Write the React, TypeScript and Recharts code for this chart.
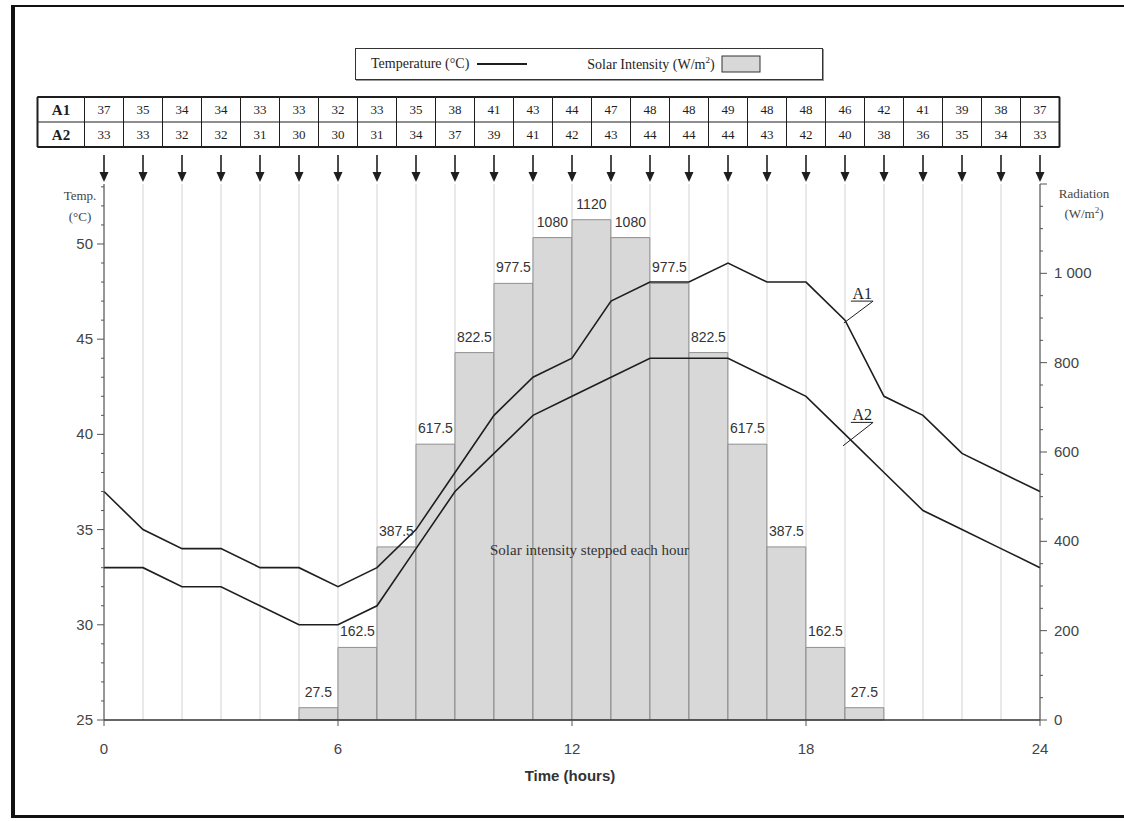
import React from 'react';
import {
  ComposedChart,
  Bar,
  Line,
  XAxis,
  YAxis,
  CartesianGrid,
  Legend,
  LabelList,
  ReferenceDot,
  ReferenceLine,
} from 'recharts';

// hourly temperatures for the two sites (°C), hour 0 .. 24
const hours = [0, 1, 2, 3, 4, 5, 6, 7, 8, 9, 10, 11, 12, 13, 14, 15, 16, 17, 18, 19, 20, 21, 22, 23, 24];
const a1Temps = [37, 35, 34, 34, 33, 33, 32, 33, 35, 38, 41, 43, 44, 47, 48, 48, 49, 48, 48, 46, 42, 41, 39, 38, 37];
const a2Temps = [33, 33, 32, 32, 31, 30, 30, 31, 34, 37, 39, 41, 42, 43, 44, 44, 44, 43, 42, 40, 38, 36, 35, 34, 33];

// solar intensity held constant over each hour (W/m²), keyed by the hour it starts
const solarStart = [5, 6, 7, 8, 9, 10, 11, 12, 13, 14, 15, 16, 17, 18, 19];
const solarValues = [27.5, 162.5, 387.5, 617.5, 822.5, 977.5, 1080, 1120, 1080, 977.5, 822.5, 617.5, 387.5, 162.5, 27.5];

const timeTicks = [0, 6, 12, 18, 24];
const tempTicks = Array.from({ length: 29 }, (_, i) => 25 + i);
const radTicks = Array.from({ length: 25 }, (_, i) => i * 50);

type Row = { x: number; a1: number; a2: number; solar?: number };

// one row per hour; the solar step that starts at that hour rides on the same row
const rows: Row[] = hours.map((h, i) => {
  const k = solarStart.indexOf(h);
  return { x: h, a1: a1Temps[i], a2: a2Temps[i], solar: k >= 0 ? solarValues[k] : undefined };
});

const SERIF = '"Liberation Serif", "DejaVu Serif", serif';
const SANS = '"Liberation Sans", Arial, sans-serif';
const INK = '#1e1e1e';
const CELL = 39;

// top axis: one table column plus a down arrow per hour
function HourTick(props: any) {
  const { x, y, payload } = props;
  const h = payload.value as number;
  const i = hours.indexOf(h);
  const top = y - 87;
  const mid = y - 62;
  const bottom = y - 37;
  const left = x - CELL / 2;
  const right = x + CELL / 2;
  return (
    <g>
      {h === 0 && (
        <g>
          <rect x={left - 47} y={top} width={47} height={bottom - top} fill="#fff" stroke={INK} strokeWidth={1} />
          <line x1={left - 47} x2={left - 47} y1={top} y2={bottom} stroke={INK} strokeWidth={2} />
          <line x1={left - 47} x2={left} y1={mid} y2={mid} stroke={INK} />
          <line x1={left - 47} x2={left} y1={top} y2={top} stroke={INK} strokeWidth={2} />
          <line x1={left - 47} x2={left} y1={bottom} y2={bottom} stroke={INK} strokeWidth={2} />
          <text x={left - 23.5} y={top + 18} textAnchor="middle" fontFamily={SERIF} fontWeight="bold" fontSize={15} fill={INK}>A1</text>
          <text x={left - 23.5} y={mid + 18} textAnchor="middle" fontFamily={SERIF} fontWeight="bold" fontSize={15} fill={INK}>A2</text>
        </g>
      )}
      <rect x={left} y={top} width={CELL} height={bottom - top} fill="#fff" stroke={INK} strokeWidth={1} />
      <line x1={left} x2={right} y1={mid} y2={mid} stroke={INK} />
      <line x1={left} x2={right} y1={top} y2={top} stroke={INK} strokeWidth={2} />
      <line x1={left} x2={right} y1={bottom} y2={bottom} stroke={INK} strokeWidth={2} />
      {h === 24 && <line x1={right} x2={right} y1={top} y2={bottom} stroke={INK} strokeWidth={2} />}
      <text x={x} y={top + 17} textAnchor="middle" fontFamily={SERIF} fontSize={13} fill={INK}>{a1Temps[i]}</text>
      <text x={x} y={mid + 17} textAnchor="middle" fontFamily={SERIF} fontSize={13} fill={INK}>{a2Temps[i]}</text>
      <line x1={x} x2={x} y1={y - 29} y2={y - 6} stroke={INK} strokeWidth={1.6} />
      <polygon points={`${x - 4.5},${y - 12} ${x + 4.5},${y - 12} ${x},${y - 2}`} fill={INK} />
    </g>
  );
}

function TempTick(props: any) {
  const { x, y, payload } = props;
  const v = payload.value as number;
  const major = v % 5 === 0;
  return (
    <g>
      <line x1={x - (major ? 7 : 3)} x2={x} y1={y} y2={y} stroke="#555" strokeWidth={1} />
      {major && v <= 50 && (
        <text x={x - 11} y={y + 5} textAnchor="end" fontFamily={SANS} fontSize={15} fill="#444">{v}</text>
      )}
    </g>
  );
}

function RadTick(props: any) {
  const { x, y, payload } = props;
  const v = payload.value as number;
  const major = v % 200 === 0;
  const text = v >= 1000 ? `${Math.floor(v / 1000)} ${String(v % 1000).padStart(3, '0')}` : String(v);
  return (
    <g>
      <line x1={x} x2={x + (major ? 7 : 3)} y1={y} y2={y} stroke="#555" strokeWidth={1} />
      {major && v <= 1000 && (
        <text x={x + 14} y={y + 5} textAnchor="start" fontFamily={SANS} fontSize={15} fill="#444">{text}</text>
      )}
    </g>
  );
}

function TempTitle(props: any) {
  const { viewBox } = props;
  const cx = viewBox.x + viewBox.width - 24;
  return (
    <text textAnchor="middle" fontFamily={SERIF} fontSize={13} fill="#444">
      <tspan x={cx} y={viewBox.y + 16}>Temp.</tspan>
      <tspan x={cx} y={viewBox.y + 37}>(°C)</tspan>
    </text>
  );
}

function RadTitle(props: any) {
  const { viewBox } = props;
  const cx = viewBox.x + 44;
  return (
    <text textAnchor="middle" fontFamily={SERIF} fontSize={13} fill="#444">
      <tspan x={cx} y={viewBox.y + 14}>Radiation</tspan>
      <tspan x={cx} y={viewBox.y + 34}>(W/m</tspan>
      <tspan fontSize={9} dy={-5}>2</tspan>
      <tspan dy={5}>)</tspan>
    </text>
  );
}

function TimeTitle(props: any) {
  const { viewBox } = props;
  return (
    <text x={viewBox.x + viewBox.width / 2 - 2} y={viewBox.y + 61} textAnchor="middle" fontFamily={SANS} fontWeight="bold" fontSize={15} fill="#333">
      Time (hours)
    </text>
  );
}

function BarValue(props: any) {
  const { x, y, width, value } = props;
  if (value == null) return null;
  return (
    <text x={x + width / 2} y={y - 11} textAnchor="middle" fontFamily={SANS} fontSize={14} fill="#333">
      {value}
    </text>
  );
}

function LegendBox() {
  return (
    <div
      style={{
        boxSizing: 'border-box',
        width: 468,
        height: 32,
        border: '1px solid #333',
        boxShadow: '1px 1px 0 #999',
        background: '#fff',
        display: 'flex',
        alignItems: 'center',
        fontFamily: SERIF,
        fontSize: 14,
        color: INK,
        paddingLeft: 15,
      }}
    >
      <span>Temperature (°C)</span>
      <svg width={60} height={10} style={{ marginLeft: 8 }}>
        <line x1={0} x2={50} y1={5} y2={5} stroke={INK} strokeWidth={2} />
      </svg>
      <span style={{ marginLeft: 50 }}>
        Solar Intensity (W/m<sup style={{ fontSize: 9 }}>2</sup>)
      </span>
      <svg width={42} height={20} style={{ marginLeft: 6 }}>
        <rect x={1} y={2} width={38} height={16} fill="#d8d8d8" stroke="#333" strokeWidth={1} />
      </svg>
    </div>
  );
}

export default function App() {
  return (
    <div style={{ position: 'absolute', left: 0, top: 0, width: 1124, height: 821, background: '#fff', overflow: 'hidden' }}>
      <div
        style={{
          position: 'absolute',
          left: 11,
          top: 5,
          width: 1113,
          height: 813,
          boxSizing: 'border-box',
          borderLeft: '4px solid #111',
          borderTop: '2px solid #111',
          borderBottom: '3px solid #111',
        }}
      />
      <div style={{ position: 'absolute', left: 0, top: 0 }}>
        <ComposedChart
          width={1124}
          height={821}
          data={rows}
          barCategoryGap={0}
          barGap={0}
          margin={{ top: 97, right: 14, bottom: 61, left: 44 }}
        >
          <CartesianGrid xAxisId="hour" yAxisId="temp" horizontal={false} stroke="#d2d2d2" />
          <XAxis
            xAxisId="hour"
            orientation="top"
            type="number"
            dataKey="x"
            domain={[0, 24]}
            ticks={hours}
            interval={0}
            height={87}
            axisLine={false}
            tickLine={false}
            tickSize={0}
            tickMargin={0}
            tick={<HourTick />}
          />
          {/* same time scale shifted half an hour, so each step bar fills its hour */}
          <XAxis
            xAxisId="step"
            type="number"
            dataKey="x"
            domain={[-0.5, 23.5]}
            allowDataOverflow
            height={0}
            hide
          />
          <XAxis
            xAxisId="time"
            type="number"
            dataKey="x"
            domain={[0, 24]}
            ticks={timeTicks}
            interval={0}
            height={40}
            stroke="#333"
            axisLine={{ stroke: '#333', strokeWidth: 1.5 }}
            tickLine={{ stroke: '#555' }}
            tickSize={6}
            tickMargin={17}
            tick={{ fontFamily: SANS, fontSize: 15, fill: '#444' }}
            label={{ content: <TimeTitle /> }}
          />
          <YAxis
            yAxisId="temp"
            domain={[25, 53.15]}
            allowDataOverflow
            ticks={tempTicks}
            interval={0}
            width={60}
            axisLine={{ stroke: '#444', strokeWidth: 1 }}
            tickLine={false}
            tickSize={0}
            tickMargin={0}
            tick={<TempTick />}
            label={{ content: <TempTitle /> }}
          />
          <YAxis
            yAxisId="rad"
            orientation="right"
            domain={[0, 1200]}
            ticks={radTicks}
            interval={0}
            width={70}
            axisLine={{ stroke: '#444', strokeWidth: 1 }}
            tickLine={false}
            tickSize={0}
            tickMargin={0}
            tick={<RadTick />}
            label={{ content: <RadTitle /> }}
          />
          <Legend
            layout="horizontal"
            verticalAlign="middle"
            align="center"
            wrapperStyle={{ top: 48, left: 355, width: 468, height: 32 }}
            content={() => <LegendBox />}
          />
          <Bar
            xAxisId="step"
            yAxisId="rad"
            dataKey="solar"
            barSize={CELL - 0.2}
            fill="#d8d8d8"
            stroke="#8f8f8f"
            strokeWidth={1}
            isAnimationActive={false}
          >
            <LabelList dataKey="solar" content={<BarValue />} />
          </Bar>
          <Line
            xAxisId="time"
            yAxisId="temp"
            type="linear"
            dataKey="a1"
            stroke={INK}
            strokeWidth={1.6}
            dot={false}
            isAnimationActive={false}
          />
          <Line
            xAxisId="time"
            yAxisId="temp"
            type="linear"
            dataKey="a2"
            stroke={INK}
            strokeWidth={1.6}
            dot={false}
            isAnimationActive={false}
          />
          <ReferenceLine xAxisId="time" yAxisId="temp" segment={[{ x: 19.15, y: 47 }, { x: 19.72, y: 47 }]} stroke={INK} />
          <ReferenceLine xAxisId="time" yAxisId="temp" segment={[{ x: 19.72, y: 47 }, { x: 18.97, y: 45.85 }]} stroke={INK} />
          <ReferenceDot
            xAxisId="time"
            yAxisId="temp"
            x={19.44}
            y={47}
            r={0}
            label={{ value: 'A1', position: 'top', offset: 2, fontFamily: SERIF, fontSize: 16, fill: INK }}
          />
          <ReferenceLine xAxisId="time" yAxisId="temp" segment={[{ x: 19.15, y: 40.63 }, { x: 19.72, y: 40.63 }]} stroke={INK} />
          <ReferenceLine xAxisId="time" yAxisId="temp" segment={[{ x: 19.72, y: 40.63 }, { x: 18.95, y: 39.4 }]} stroke={INK} />
          <ReferenceDot
            xAxisId="time"
            yAxisId="temp"
            x={19.44}
            y={40.63}
            r={0}
            label={{ value: 'A2', position: 'top', offset: 2, fontFamily: SERIF, fontSize: 16, fill: INK }}
          />
          <ReferenceDot
            xAxisId="time"
            yAxisId="rad"
            x={12.45}
            y={381}
            r={0}
            label={{ value: 'Solar intensity stepped each hour', position: 'center', fontFamily: SERIF, fontSize: 15, fill: '#333' }}
          />
        </ComposedChart>
      </div>
    </div>
  );
}
